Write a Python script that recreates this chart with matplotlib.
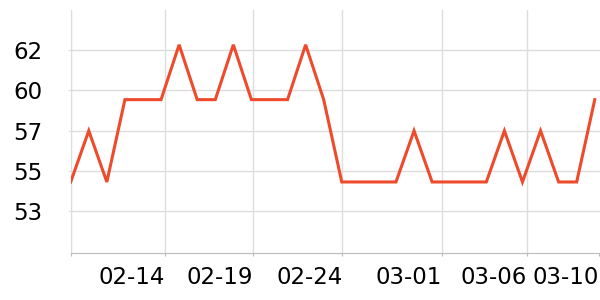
import matplotlib
matplotlib.use("Agg")
import matplotlib.pyplot as plt

# ---- data ----
LOW, MID, PLAT, HIGH = 55.0, 57.8, 59.5, 62.5
values = [LOW, MID, LOW, PLAT, PLAT, PLAT, HIGH, PLAT, PLAT, HIGH,
          PLAT, PLAT, PLAT, HIGH, PLAT, LOW, LOW, LOW, LOW, MID,
          LOW, LOW, LOW, LOW, MID, LOW, MID, LOW, LOW, PLAT]
x_tick_pos = [0, 5.20, 10.07, 15.04, 20.53, 25.23, 29.24]
x_tick_labels = ["", "02-14", "02-19", "02-24", "03-01", "03-06", "03-10"]
y_tick_pos = [53.4, 55.6, 57.8, 60.0, 62.2]
y_tick_labels = ["53", "55", "57", "60", "62"]

LINE = "#EE4A2C"
GRID = "#dddddd"
AXIS = "#bbbbbb"

fig = plt.figure(figsize=(6, 3), dpi=100)
ax = fig.add_axes([70.7 / 600, (300 - 252.7) / 300, (600 - 70.7) / 600, (252.7 - 10) / 300])

ax.plot(range(len(values)), values, color=LINE, lw=2.2, solid_joinstyle="miter", zorder=3)

ax.set_xlim(0, 29.29)
ax.set_ylim(53.4 - 1.03 * 2.2, 53.4 + 5 * 2.2)

ax.set_xticks(x_tick_pos)
ax.set_xticklabels(x_tick_labels, ha="right")
ax.set_yticks(y_tick_pos)
ax.set_yticklabels(y_tick_labels)

ax.grid(True, color=GRID, lw=1)
ax.set_axisbelow(True)
ax.get_xgridlines()[-1].set_visible(False)

for s in ["top", "right"]:
    ax.spines[s].set_visible(False)
ax.spines["left"].set_color(GRID)
ax.spines["bottom"].set_color(AXIS)

ax.tick_params(axis="x", length=2.5, color=AXIS, pad=7, labelsize=16.5, labelcolor="black")
ax.tick_params(axis="y", length=2.5, color=GRID, pad=18, labelsize=16.5, labelcolor="black")

fig.savefig("out.png", dpi=100)
